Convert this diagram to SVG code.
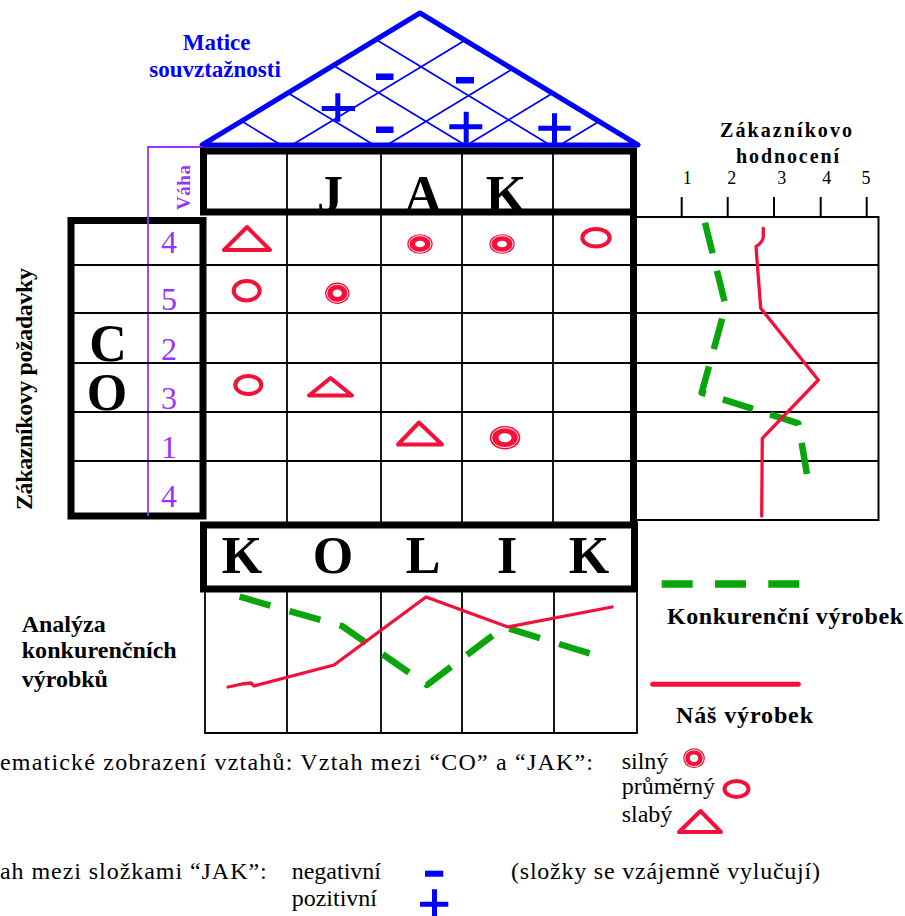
<svg xmlns="http://www.w3.org/2000/svg" width="905" height="916" viewBox="0 0 905 916">
<style>
text{font-family:"Liberation Serif","Times New Roman",serif}
.b{font-weight:bold}
.thick{fill:none;stroke:#000;stroke-width:7}
.thin{fill:none;stroke:#000;stroke-width:1.8}
.roof{fill:none;stroke:#0000ff;stroke-width:5;stroke-linejoin:round}
.lat{fill:none;stroke:#0000ff;stroke-width:1.7}
.sign{fill:none;stroke:#0000ff;stroke-width:5}
.bluef{fill:#0000ff}
.red{fill:none;stroke:#f5103a;stroke-width:4;stroke-linejoin:round}
.sf{fill:#f5103a}
.sw{fill:none;stroke:#fff;stroke-width:0.9}
.sc{fill:#fff}
.our{fill:none;stroke:#f5103a;stroke-width:3.3;stroke-linejoin:round;stroke-linecap:round}
.comp{fill:none;stroke:#0aa50a;stroke-width:6.5;stroke-linejoin:round}
.pur{fill:#9933ff}
.big{font-size:52px;font-weight:bold;text-anchor:middle}
.w{font-size:32px;text-anchor:middle}
.lg{font-size:24px}
</style>

<g id="roof">
  <polygon class="roof" points="202,145 420,13 638,145"/>
  <path class="lat" d="M281 145 L241.5 121.1 M374 145 L288 92.9 M465 145 L333.5 65.4 M550 145 L376 39.6 M292 145 L465 40.2 M387 145 L512.5 69 M467 145 L552.5 93.2 M560 145 L599 121.4"/>
  <rect class="bluef" x="376" y="73.5" width="17.5" height="6.5"/>
  <rect class="bluef" x="456" y="77" width="18" height="6.5"/>
  <rect class="bluef" x="376" y="126.5" width="17.5" height="6.5"/>
  <path class="sign" d="M321.7 108.5 H355 M337.8 93.3 V121.7 M449.3 126.7 H482.3 M466.2 111.7 V142.7 M538.3 128.3 H570.7 M554.5 113.3 V143.3"/>
  <text class="b" x="216.7" y="50" font-size="23" fill="#0000ff" text-anchor="middle">Matice</text>
  <text class="b" x="215" y="77" font-size="23" fill="#0000ff" text-anchor="middle">souvztažnosti</text>
</g>

<g id="co-box">
  <rect class="thick" x="71" y="220.5" width="132" height="295.5"/>
  <text class="big" x="108" y="361">C</text>
  <text class="big" x="107" y="410">O</text>
  <text class="b" transform="translate(32,389) rotate(-90)" font-size="24" text-anchor="middle" textLength="242">Zákazníkovy  požadavky</text>
</g>

<g id="vaha">
  <path d="M203 147 H148 V516" fill="none" stroke="#9933ff" stroke-width="1.8"/>
  <text class="b pur" transform="translate(190,187.5) rotate(-90)" font-size="19" text-anchor="middle" textLength="45">Váha</text>
  <text class="w pur" x="169" y="253">4</text>
  <text class="w pur" x="169" y="310">5</text>
  <text class="w pur" x="169" y="360">2</text>
  <text class="w pur" x="169" y="409">3</text>
  <text class="w pur" x="169" y="458">1</text>
  <text class="w pur" x="169" y="507">4</text>
</g>

<g id="grid">
  <path class="thin" d="M71 265 H878.5 M71 313 H878.5 M71 363 H878.5 M71 412 H878.5 M71 461 H878.5"/>
  <path class="thin" d="M287 151 V525 M381 151 V525 M462 151 V525 M553 151 V525"/>
</g>

<g id="jak">
  <text class="big" x="330" y="212">J</text>
  <text class="big" x="423" y="212">A</text>
  <text class="big" x="506" y="212">K</text>
  <rect class="thick" x="203.5" y="151" width="430" height="61"/>
  <line class="thick" x1="633.5" y1="151" x2="633.5" y2="525"/>
</g>

<g id="matrix-marks">
  <polygon class="red" points="224,250 270,250 247,227"/>
  <polygon class="red" points="309,395.5 352,395.5 330.5,378"/>
  <polygon class="red" points="398,444.5 442,444.5 419,422.5"/>
  <ellipse class="red" cx="596" cy="237.7" rx="13.7" ry="8.8"/>
  <ellipse class="red" cx="246.7" cy="290.7" rx="13" ry="9.7"/>
  <ellipse class="red" cx="248.3" cy="385" rx="13" ry="9"/>
  <g>
    <ellipse class="sf" cx="420" cy="244" rx="12.7" ry="9.8"/>
    <ellipse class="sw" cx="420" cy="244" rx="11" ry="8.3"/>
    <ellipse class="sc" cx="420" cy="244" rx="5" ry="3.3"/>
  </g>
  <g>
    <ellipse class="sf" cx="502" cy="244" rx="12.7" ry="9.8"/>
    <ellipse class="sw" cx="502" cy="244" rx="11" ry="8.3"/>
    <ellipse class="sc" cx="502" cy="244" rx="5" ry="3.3"/>
  </g>
  <g>
    <ellipse class="sf" cx="337.3" cy="293.3" rx="12.2" ry="10.7"/>
    <ellipse class="sw" cx="337.3" cy="293.3" rx="10.5" ry="9"/>
    <ellipse class="sc" cx="337.3" cy="293.3" rx="4.5" ry="3.8"/>
  </g>
  <g>
    <ellipse class="sf" cx="505" cy="437.7" rx="15.3" ry="11.7"/>
    <ellipse class="sw" cx="505" cy="437.7" rx="13.3" ry="9.9"/>
    <ellipse class="sc" cx="505" cy="437.7" rx="6.5" ry="4.5"/>
  </g>
</g>

<g id="rating-chart">
  <path d="M633 217 H878.5 V520 H633" fill="none" stroke="#000" stroke-width="2"/>
  <path d="M681.7 197 V217 M727.7 197 V217 M774 197 V217 M820.7 197 V217 M866.7 197 V217" stroke="#000" stroke-width="2"/>
  <text x="687.3" y="184" font-size="18" text-anchor="middle">1</text>
  <text x="731.7" y="184" font-size="18" text-anchor="middle">2</text>
  <text x="781.7" y="184" font-size="18" text-anchor="middle">3</text>
  <text x="826.7" y="184" font-size="18" text-anchor="middle">4</text>
  <text x="866" y="184" font-size="18" text-anchor="middle">5</text>
  <text class="b" x="720" y="137" font-size="20" textLength="132">Zákazníkovo</text>
  <text class="b" x="736" y="163" font-size="20" textLength="103">hodnocení</text>
  <path class="comp" stroke-dasharray="31.5 18" d="M705 222.7 L725.7 306 L701.7 392.7 L798.3 423.3 L809 486"/>
  <path class="our" d="M763.3 228.3 V237 Q763 242 756 246.7 L760.7 308.3 L818.3 380 L762.3 438.3 L761.7 516"/>
</g>

<g id="kolik">
  <rect class="thick" x="203.5" y="525" width="431" height="64"/>
  <text class="big" x="242" y="573">K</text>
  <text class="big" x="333" y="573">O</text>
  <text class="big" x="423" y="573">L</text>
  <text class="big" x="507" y="573">I</text>
  <text class="big" x="589" y="573">K</text>
</g>

<g id="competitor-chart">
  <path class="thin" d="M205 589 V733 H637 V589 M287 589 V733 M381 589 V733 M462 589 V733 M554 589 V733"/>
  <path class="comp" stroke-dasharray="32 20" d="M239.6 596.7 L342 626 L427 685 L504 627 L594.7 655"/>
  <path class="our" d="M228 687 L242 684 L251 683 L254 686 L334 665 L426 597 L508 627 L612 607"/>
  <text class="b" x="21.7" y="631.7" font-size="24">Analýza</text>
  <text class="b" x="21.7" y="658" font-size="24" textLength="155">konkurenčních</text>
  <text class="b" x="21.7" y="687" font-size="24">výrobků</text>
</g>

<g id="chart-legend">
  <line x1="661.7" y1="584" x2="800" y2="584" stroke="#0aa50a" stroke-width="7.7" stroke-dasharray="31 22.3"/>
  <text class="b" x="667" y="623.5" font-size="24" textLength="236">Konkurenční  výrobek</text>
  <line x1="652.7" y1="684.3" x2="798.3" y2="684.3" stroke="#f5103a" stroke-width="5" stroke-linecap="round"/>
  <text class="b" x="676" y="723" font-size="24" textLength="137">Náš  výrobek</text>
</g>

<g id="symbol-legend">
  <text class="lg" x="0" y="770" textLength="593">ematické  zobrazení vztahů: Vztah mezi “CO” a “JAK”:</text>
  <text class="lg" x="621.7" y="768.5">silný</text>
  <text class="lg" x="621.7" y="793.5">průměrný</text>
  <text class="lg" x="621.7" y="821.7">slabý</text>
  <ellipse class="sf" cx="694" cy="758.3" rx="10.8" ry="10"/>
  <ellipse class="sw" cx="694" cy="758.3" rx="9.2" ry="8.4"/>
  <ellipse class="sc" cx="694" cy="758.3" rx="4.2" ry="3.8"/>
  <ellipse class="red" cx="736.5" cy="789" rx="12" ry="8"/>
  <polygon class="red" points="679,832 721,832 700.5,811"/>
  <text class="lg" x="0" y="879.3" textLength="266.7">ah mezi složkami “JAK”:</text>
  <text class="lg" x="291.7" y="879.3">negativní</text>
  <text class="lg" x="291.7" y="906">pozitivní</text>
  <rect class="bluef" x="425" y="870.7" width="18.3" height="6"/>
  <path class="sign" d="M420 904.2 H448.3 M434.5 889.3 V919"/>
  <text class="lg" x="511" y="879.3" textLength="309">(složky se vzájemně vylučují)</text>
</g>
</svg>
